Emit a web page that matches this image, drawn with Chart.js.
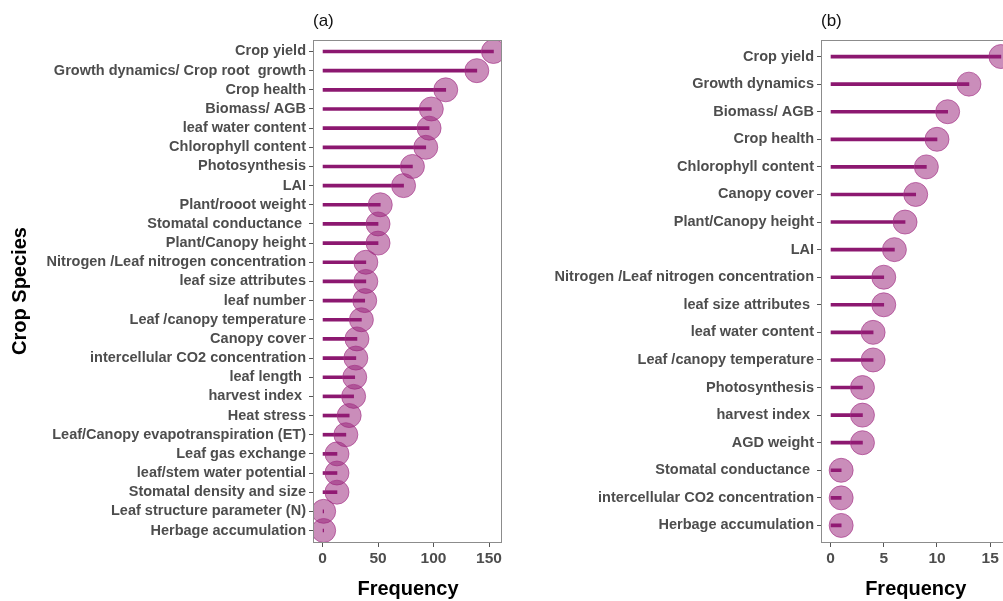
<!DOCTYPE html>
<html>
<head>
<meta charset="utf-8">
<script src="https://cdn.jsdelivr.net/npm/chart.js@4.4.1/dist/chart.umd.min.js"></script>
<style>
  html, body { margin: 0; padding: 0; background: #fff; overflow: hidden; }
  body { width: 1003px; height: 601px; position: relative; }
  canvas { position: absolute; top: 0; }
  #chartA { left: 0; }
  #chartB { left: 515px; }
</style>
</head>
<body>
<canvas id="chartA" width="510" height="601"></canvas>
<canvas id="chartB" width="500" height="601"></canvas>
<script>
// Panel (a) - all studies
const labelsA = [
  'Crop yield', 'Growth dynamics/ Crop root  growth', 'Crop health', 'Biomass/ AGB',
  'leaf water content', 'Chlorophyll content', 'Photosynthesis', 'LAI',
  'Plant/rooot weight', 'Stomatal conductance ', 'Plant/Canopy height',
  'Nitrogen /Leaf nitrogen concentration', 'leaf size attributes', 'leaf number',
  'Leaf /canopy temperature', 'Canopy cover', 'intercellular CO2 concentration',
  'leaf length ', 'harvest index ', 'Heat stress', 'Leaf/Canopy evapotranspiration (ET)',
  'Leaf gas exchange', 'leaf/stem water potential', 'Stomatal density and size',
  'Leaf structure parameter (N)', 'Herbage accumulation'
];
const valuesA = [154, 139, 111, 98, 96, 93, 81, 73, 52, 50, 50, 39, 39, 38, 35, 31, 30, 29, 28, 24, 21, 13, 13, 13, 1, 1];
const xTicksA = [0, 50, 100, 150];

// Panel (b)
const labelsB = [
  'Crop yield', 'Growth dynamics', 'Biomass/ AGB', 'Crop health', 'Chlorophyll content',
  'Canopy cover', 'Plant/Canopy height', 'LAI', 'Nitrogen /Leaf nitrogen concentration',
  'leaf size attributes ', 'leaf water content', 'Leaf /canopy temperature',
  'Photosynthesis', 'harvest index ', 'AGD weight', 'Stomatal conductance ',
  'intercellular CO2 concentration', 'Herbage accumulation'
];
const valuesB = [16, 13, 11, 10, 9, 8, 7, 6, 5, 5, 4, 4, 3, 3, 3, 1, 1, 1];
const xTicksB = [0, 5, 10, 15];

const FONT = "'Liberation Sans', Arial, sans-serif";
Chart.defaults.font.family = FONT;

// ggplot-like panel box + the (a)/(b) tag
const panelFrame = {
  id: 'panelFrame',
  afterDatasetsDraw(chart, args, opts) {
    const { ctx, chartArea: a } = chart;
    ctx.save();
    ctx.strokeStyle = '#8c8c8c';
    ctx.lineWidth = 1;
    ctx.strokeRect(Math.round(a.left) - 0.5, Math.round(a.top) + 0.5,
      Math.round(a.right - a.left), Math.round(a.bottom - a.top));
    ctx.fillStyle = '#111';
    ctx.font = '17px ' + FONT;
    ctx.textBaseline = 'middle';
    ctx.fillText(opts.tag, a.left - 1, 21);
    ctx.restore();
  }
};

function makeLollipop(canvasId, labels, values, xTicks, cfg) {
  const ctx = document.getElementById(canvasId);
  return new Chart(ctx, {
    type: 'scatter',
    data: {
      datasets: [
        {
          type: 'scatter',
          data: labels.map((_, i) => ({ x: values[i], y: i })),
          pointRadius: 12,
          pointHoverRadius: 12,
          backgroundColor: 'rgba(150, 28, 118, 0.5)',
          borderColor: 'rgba(165, 50, 135, 0.65)',
          borderWidth: 1,
          order: 0,
        },
        {
          type: 'bar',
          indexAxis: 'y',
          data: labels.map((_, i) => ({ y: i, x: [0, values[i]] })),
          backgroundColor: '#8c1870',
          barThickness: 3,
          order: 1,
        },
      ],
    },
    options: {
      responsive: false,
      animation: false,
      events: [],
      layout: {
        autoPadding: false,
        padding: { top: 40, right: cfg.padRight, left: 0, bottom: 0 },
      },
      plugins: {
        legend: { display: false },
        tooltip: { enabled: false },
        panelFrame: { tag: cfg.tag },
      },
      scales: {
        x: {
          type: 'linear',
          position: 'bottom',
          offset: false,
          min: cfg.xMin,
          max: cfg.xMax,
          afterBuildTicks: (axis) => { axis.ticks = xTicks.map((v) => ({ value: v })); },
          afterFit: (axis) => {
            axis.height = 59;
            axis.paddingLeft = 0;
            axis.paddingRight = 0;
          },
          border: { display: false },
          grid: { offset: false, drawOnChartArea: false, drawTicks: true, tickLength: 5, color: '#555' },
          ticks: {
            padding: 2,
            color: '#4d4d4d',
            font: { size: 15.5, weight: 'bold' },
            callback: (v) => v,
          },
          title: {
            display: true,
            text: 'Frequency',
            color: '#000',
            font: { size: 20, weight: 'bold' },
            padding: { top: 0, bottom: 0 },
          },
        },
        y: {
          type: 'linear',
          position: 'left',
          reverse: true,
          offset: false,
          min: -0.6,
          max: labels.length - 0.4,
          afterBuildTicks: (axis) => { axis.ticks = labels.map((_, i) => ({ value: i })); },
          afterFit: (axis) => {
            axis.width = cfg.yWidth;
            axis.paddingTop = 0;
            axis.paddingBottom = 0;
          },
          border: { display: false },
          grid: { offset: false, drawOnChartArea: false, drawTicks: true, tickLength: 5, color: '#555' },
          ticks: {
            autoSkip: false,
            padding: 3,
            color: '#4d4d4d',
            font: { size: 14.5, weight: 'bold' },
            callback: (v) => labels[v],
          },
          title: {
            display: cfg.yTitle,
            text: 'Crop Species',
            color: '#000',
            font: { size: 20, weight: 'bold' },
            padding: { top: 8, bottom: 0 },
          },
        },
      },
    },
    plugins: [panelFrame],
  });
}

makeLollipop('chartA', labelsA, valuesA, xTicksA, {
  tag: '(a)', xMin: -7.7, xMax: 161.7, yWidth: 314, padRight: 8, yTitle: true,
});
makeLollipop('chartB', labelsB, valuesB, xTicksB, {
  tag: '(b)', xMin: -0.8, xMax: 16.8, yWidth: 307, padRight: 5.6, yTitle: false,
});
</script>
</body>
</html>
